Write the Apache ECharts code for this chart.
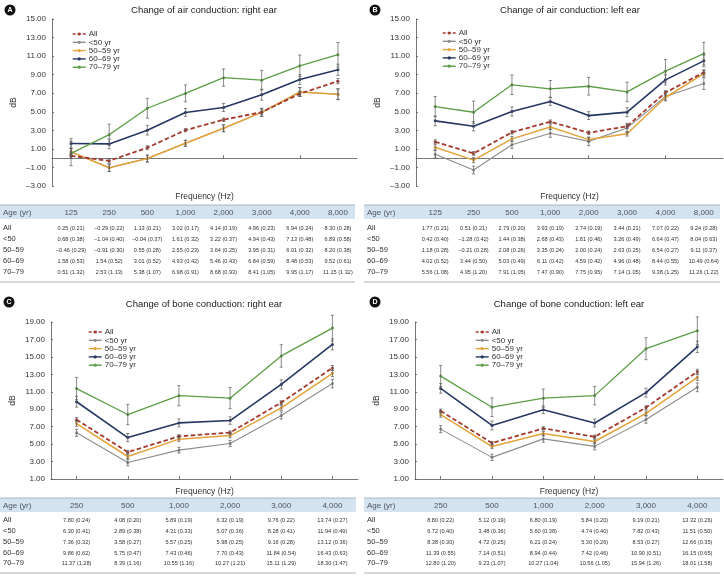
<!DOCTYPE html>
<html><head><meta charset="utf-8">
<script src="https://cdn.jsdelivr.net/npm/echarts@6/dist/echarts.min.js"></script>
<style>html,body{margin:0;padding:0;background:#fff}#c{width:724px;height:581px}</style>
</head><body><div id="c"></div>
<script>
// ---- categories / labels ----
const freqAir = ['125','250','500','1,000','2,000','3,000','4,000','8,000'];
const freqBone = ['250','500','1,000','2,000','3,000','4,000'];
const ageRows = ['All','<50','50–59','60–69','70–79'];
const legendNames = ['All','<50 yr','50–59 yr','60–69 yr','70–79 yr'];

// ---- A: air conduction, right ear (mean, SE) ----
const airR_all = [0.25,-0.29,1.13,3.02,4.14,4.96,6.94,8.30];
const airR_all_se = [0.21,0.22,0.21,0.17,0.19,0.23,0.24,0.28];
const airR_lt50 = [0.68,-1.04,-0.04,1.61,3.22,4.94,7.13,6.89];
const airR_lt50_se = [0.38,0.40,0.37,0.32,0.37,0.43,0.48,0.58];
const airR_50s = [-0.46,-0.91,0.55,2.55,3.64,3.95,6.01,8.20];
const airR_50s_se = [0.29,0.30,0.28,0.23,0.25,0.31,0.32,0.38];
const airR_60s = [1.58,1.54,3.01,4.93,5.46,6.84,8.48,9.52];
const airR_60s_se = [0.53,0.52,0.52,0.42,0.43,0.59,0.53,0.61];
const airR_70s = [0.51,2.53,5.38,6.98,8.68,8.41,9.95,11.15];
const airR_70s_se = [1.32,1.13,1.07,0.91,0.93,1.05,1.17,1.32];

// ---- B: air conduction, left ear ----
const airL_all = [1.77,0.51,2.79,3.93,2.74,3.44,7.07,9.24];
const airL_all_se = [0.21,0.21,0.20,0.19,0.19,0.21,0.22,0.28];
const airL_lt50 = [0.42,-1.28,1.44,2.68,1.81,3.26,6.64,8.04];
const airL_lt50_se = [0.40,0.42,0.38,0.43,0.46,0.49,0.47,0.63];
const airL_50s = [1.18,-0.21,2.08,3.35,2.00,2.63,6.54,9.11];
const airL_50s_se = [0.28,0.28,0.26,0.24,0.24,0.25,0.27,0.37];
const airL_60s = [4.02,3.44,5.03,6.11,4.59,4.96,8.44,10.49];
const airL_60s_se = [0.52,0.50,0.49,0.42,0.42,0.48,0.55,0.64];
const airL_70s = [5.56,4.95,7.91,7.47,7.75,7.14,9.38,11.26];
const airL_70s_se = [1.08,1.20,1.05,0.90,0.95,1.05,1.25,1.22];

// ---- C: bone conduction, right ear ----
const boneR_all = [7.80,4.08,5.89,6.32,9.76,13.74];
const boneR_all_se = [0.24,0.20,0.19,0.19,0.22,0.27];
const boneR_lt50 = [6.30,2.89,4.31,5.07,8.28,11.94];
const boneR_lt50_se = [0.41,0.38,0.33,0.36,0.41,0.49];
const boneR_50s = [7.36,3.58,5.57,5.98,9.16,13.12];
const boneR_50s_se = [0.32,0.27,0.25,0.25,0.28,0.36];
const boneR_60s = [9.86,5.75,7.43,7.70,11.84,16.43];
const boneR_60s_se = [0.62,0.47,0.46,0.43,0.54,0.63];
const boneR_70s = [11.37,8.39,10.55,10.27,15.11,18.30];
const boneR_70s_se = [1.28,1.16,1.16,1.21,1.29,1.47];

// ---- D: bone conduction, left ear ----
const boneL_all = [8.80,5.12,6.80,5.84,9.19,13.32];
const boneL_all_se = [0.22,0.19,0.19,0.20,0.21,0.26];
const boneL_lt50 = [6.72,3.48,5.60,4.74,7.82,11.51];
const boneL_lt50_se = [0.40,0.36,0.38,0.40,0.43,0.50];
const boneL_50s = [8.38,4.72,6.21,5.30,8.53,12.66];
const boneL_50s_se = [0.30,0.25,0.24,0.26,0.27,0.35];
const boneL_60s = [11.39,7.14,8.94,7.42,10.90,16.15];
const boneL_60s_se = [0.55,0.51,0.44,0.46,0.51,0.65];
const boneL_70s = [12.80,9.23,10.27,10.56,15.94,18.01];
const boneL_70s_se = [1.20,1.07,1.04,1.05,1.26,1.58];

// In the published panel A the orange (50–59) line is drawn at the <50 values (covering the grey line)
const panels = [
  {id:'A', title:'Change of air conduction: right ear', cats:freqAir, yMin:-3, yMax:15,
   table:[[airR_all,airR_all_se],[airR_lt50,airR_lt50_se],[airR_50s,airR_50s_se],[airR_60s,airR_60s_se],[airR_70s,airR_70s_se]],
   plot:[[airR_all,airR_all_se],[airR_lt50,airR_lt50_se],[airR_lt50,airR_lt50_se],[airR_60s,airR_60s_se],[airR_70s,airR_70s_se]]},
  {id:'B', title:'Change of air conduction: left ear', cats:freqAir, yMin:-3, yMax:15,
   table:[[airL_all,airL_all_se],[airL_lt50,airL_lt50_se],[airL_50s,airL_50s_se],[airL_60s,airL_60s_se],[airL_70s,airL_70s_se]]},
  {id:'C', title:'Change of bone conduction: right ear', cats:freqBone, yMin:1, yMax:19,
   table:[[boneR_all,boneR_all_se],[boneR_lt50,boneR_lt50_se],[boneR_50s,boneR_50s_se],[boneR_60s,boneR_60s_se],[boneR_70s,boneR_70s_se]]},
  {id:'D', title:'Change of bone conduction: left ear', cats:freqBone, yMin:1, yMax:19,
   table:[[boneL_all,boneL_all_se],[boneL_lt50,boneL_lt50_se],[boneL_50s,boneL_50s_se],[boneL_60s,boneL_60s_se],[boneL_70s,boneL_70s_se]]}
];
panels.forEach(p=>{ if(!p.plot) p.plot = p.table; });

// ---- layout (positions/styles) ----
const layout = [
  {grid:{left:52,top:19,width:305,height:167}, badge:[10,10], titleXY:[204,10], legend:[72,30], tbl:{x0:0,x1:355,head:205,rows:[228,239,250,261,272],bottom:282,freqY:197}},
  {grid:{left:416,top:19,width:307,height:167}, badge:[375,10], titleXY:[570,10], legend:[442,29], tbl:{x0:364,x1:720,head:205,rows:[228,239,250,261,272],bottom:282,freqY:197}},
  {grid:{left:51,top:322,width:307,height:157}, badge:[9,302], titleXY:[204,304], legend:[88,328], tbl:{x0:0,x1:356,head:498,rows:[520,531,542,553,563],bottom:573,freqY:492}},
  {grid:{left:415,top:322,width:308,height:157}, badge:[375,302], titleXY:[569,304], legend:[475,328], tbl:{x0:364,x1:720,head:498,rows:[520,531,542,553,563],bottom:573,freqY:492}}
];
const colors = ['#a33a2f','#8d8d8d','#e2a33c','#263762','#5c9d45'];
const widths = [1.8,1.1,1.5,1.6,1.3];
const FONT = '"Liberation Sans", Arial, sans-serif';

const fmt = v => (v<0?'–':'') + Math.abs(v).toFixed(2);

const chart = echarts.init(document.getElementById('c'), null, {renderer:'canvas'});
const grids=[], xAxes=[], yAxes=[], series=[], legends=[];
panels.forEach((p,pi)=>{
  const L = layout[pi];
  grids.push(L.grid);
  xAxes.push({type:'category', gridIndex:pi, data:p.cats, boundaryGap:true,
    name:'Frequency (Hz)', nameLocation:'middle', nameGap: L.tbl.freqY - (L.grid.top+L.grid.height) - 4.5,
    nameTextStyle:{fontSize:8.5, color:'#333', fontFamily:FONT},
    axisLine:{lineStyle:{color:'#555', width:0.8}},
    axisTick:{show:true, alignWithLabel:true, inside:true, length:3, lineStyle:{color:'#555', width:0.8}},
    axisLabel:{show:false}, splitLine:{show:false}});
  yAxes.push({type:'value', gridIndex:pi, min:p.yMin, max:p.yMax, interval:2,
    name:'dB', nameLocation:'middle', nameGap:34, nameRotate:90,
    nameTextStyle:{fontSize:8.5, color:'#333', fontFamily:FONT},
    axisLine:{show:true, lineStyle:{color:'#555', width:0.8}},
    axisTick:{show:true, inside:true, length:2, lineStyle:{color:'#555', width:0.8}},
    axisLabel:{fontSize:8, color:'#333', fontFamily:FONT, margin:6, formatter:v=>fmt(v)},
    splitLine:{show:false}});
  p.plot.forEach((d,g)=>{
    series.push({type:'line', name:legendNames[g], xAxisIndex:pi, yAxisIndex:pi, data:d[0],
      symbol:'circle', symbolSize:3, z: 2 + (g===0?5:g),
      lineStyle:{color:colors[g], width:widths[g], type: g===0?[4.5,2.5]:'solid'},
      itemStyle:{color:colors[g]}, emphasis:{disabled:true}});
  });
  // error bars (mean ± SE)
  const eb = [];
  p.plot.forEach(d=>{ d[0].forEach((m,i)=>eb.push([i, m-d[1][i], m+d[1][i]])); });
  series.push({type:'custom', xAxisIndex:pi, yAxisIndex:pi, data:eb, z:20, silent:true,
    renderItem:(params, api)=>{
      const lo = api.coord([api.value(0), api.value(1)]);
      const hi = api.coord([api.value(0), api.value(2)]);
      const st = {stroke:'#5a5a5a', lineWidth:0.7};
      return {type:'group', children:[
        {type:'line', shape:{x1:lo[0],y1:lo[1],x2:hi[0],y2:hi[1]}, style:st},
        {type:'line', shape:{x1:lo[0]-1.6,y1:lo[1],x2:lo[0]+1.6,y2:lo[1]}, style:st},
        {type:'line', shape:{x1:hi[0]-1.6,y1:hi[1],x2:hi[0]+1.6,y2:hi[1]}, style:st}
      ]};
    }});
  legends.push({orient:'vertical', left:L.legend[0], top:L.legend[1], padding:0,
    itemWidth:13, itemHeight:4, itemGap:0.3, selectedMode:false,
    textStyle:{fontSize:8, color:'#333', fontFamily:FONT, lineHeight:7, padding:[0,0,0,-2]},
    data:legendNames.map((n,g)=>({name:n, itemStyle:{color:colors[g]}, symbolSize:2.5, lineStyle:{color:colors[g], width:1.4, type:g===0?[3,2]:'solid'}}))});
});

chart.setOption({animation:false, textStyle:{fontFamily:FONT}, grid:grids, xAxis:xAxes, yAxis:yAxes, legend:legends, series:series});

// ---- titles, badges, tables as graphic text ----
const gfx = [];
panels.forEach((p,pi)=>{
  const L = layout[pi], T = L.tbl;
  gfx.push({type:'circle', shape:{cx:L.badge[0], cy:L.badge[1], r:5.5}, style:{fill:'#111'}});
  gfx.push({type:'text', x:L.badge[0], y:L.badge[1]+0.5, style:{text:p.id, fill:'#fff', font:'bold 7px '+FONT, align:'center', verticalAlign:'middle'}});
  gfx.push({type:'text', x:L.titleXY[0], y:L.titleXY[1], style:{text:p.title, fill:'#222', font:'9.5px '+FONT, align:'center', verticalAlign:'middle'}});
  // header band
  gfx.push({type:'rect', shape:{x:T.x0, y:T.head, width:T.x1-T.x0, height:14}, style:{fill:'#d5e3f1'}});
  gfx.push({type:'line', shape:{x1:T.x0, y1:T.head, x2:T.x1, y2:T.head}, style:{stroke:'#9aa8b8', lineWidth:0.8}});
  gfx.push({type:'line', shape:{x1:T.x0, y1:T.bottom, x2:T.x1, y2:T.bottom}, style:{stroke:'#999', lineWidth:0.8}});
  gfx.push({type:'text', x:T.x0+3, y:T.head+7.5, style:{text:'Age (yr)', fill:'#4a5566', font:'8px '+FONT, verticalAlign:'middle'}});
  p.cats.forEach((c,i)=>{
    const x = chart.convertToPixel({xAxisIndex:pi}, i);
    gfx.push({type:'text', x:x, y:T.head+7.5, style:{text:c, fill:'#4a5566', font:'8px '+FONT, align:'center', verticalAlign:'middle'}});
  });
  ageRows.forEach((r,ri)=>{
    const y = T.rows[ri];
    gfx.push({type:'text', x:T.x0+3, y:y, style:{text:r, fill:'#333', font:'7.5px '+FONT, verticalAlign:'middle'}});
    const d = p.table[ri];
    d[0].forEach((m,i)=>{
      const x = chart.convertToPixel({xAxisIndex:pi}, i);
      gfx.push({type:'text', x:x, y:y, style:{text:fmt(m)+' ('+d[1][i].toFixed(2)+')', fill:'#333', font:'5.6px '+FONT, align:'center', verticalAlign:'middle'}});
    });
  });
});
chart.setOption({graphic:gfx});
</script>
</body></html>
